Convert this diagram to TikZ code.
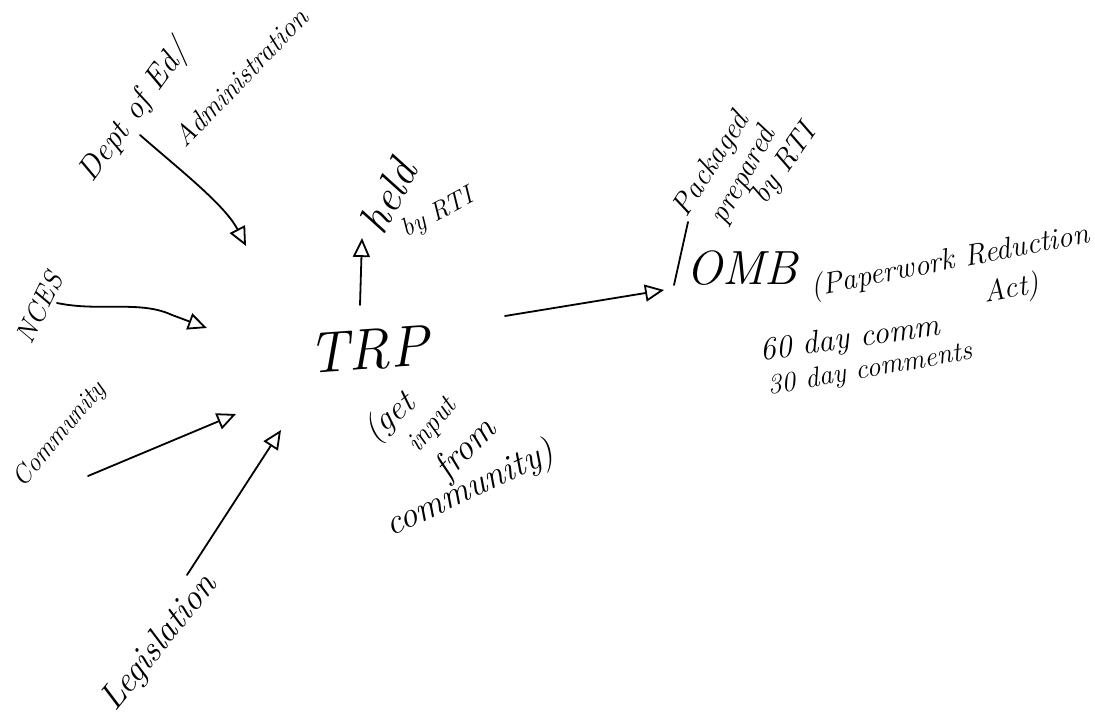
\documentclass[tikz,border=0pt]{standalone}
\usepackage{fontspec}
\setmainfont{Latin Modern Roman}
\usetikzlibrary{arrows.meta}
\begin{document}
\begin{tikzpicture}[x=1pt,y=-1pt,
  hw/.style={font=\fontsize{#1}{#1}\selectfont\itshape, inner sep=0pt},
  arr/.style={line width=1.8pt, line cap=round, -{Triangle[open, length=19pt, width=17pt, line width=1.8pt]}},
  ln/.style={line width=1.8pt, line cap=round}]
\useasboundingbox (0,0) rectangle (1095,717);
\fill[white] (0,0) rectangle (1095,717);
% labels
\node[hw=32, rotate=54] (dept) at (135,112) {Dept of Ed/};
\node[hw=28, rotate=46] (admin) at (241,77) {Administration};
\node[hw=28, rotate=64] (nces) at (39,308) {NCES};
\node[hw=26, rotate=50] (comm) at (60,435) {Community};
\node[hw=36, rotate=51] (legis) at (160,643) {Legislation};
\node[hw=58, rotate=4] (trp) at (368,350) {TRP};
\node[hw=34, rotate=40] (get) at (390,418) {(get};
\node[hw=28, rotate=50] (input) at (433,426) {input};
\node[hw=36, rotate=45] (from) at (466,450) {from};
\node[hw=36, rotate=25] (cmty) at (470,490) {community)};
\node[hw=44, rotate=62] (held) at (388,196) {held};
\node[hw=26, rotate=28] (byrti) at (438,214) {by RTI};
\node[hw=30, rotate=57] (pk1) at (712,165) {Packaged};
\node[hw=30, rotate=61] (pk2) at (744,176) {prepared};
\node[hw=30, rotate=55] (pk3) at (785,165) {by RTI};
\node[hw=48] (omb) at (742,268) {OMB};
\node[hw=30, rotate=11] (pra) at (950,262) {(Paperwork Reduction};
\node[hw=30, rotate=10] (act) at (1012,290) {Act)};
\node[hw=32, rotate=8] (c60) at (850,340) {60 day comm};
\node[hw=28, rotate=10] (c30) at (870,370) {30 day comments};
% connector ends
\coordinate (deptS) at (140,135);
\coordinate (deptE) at (246,246);
\coordinate (ncesS) at (57,303);
\coordinate (ncesM) at (172,315);
\coordinate (ncesE) at (207,328);
\coordinate (commS) at (88,476);
\coordinate (commE) at (236,414);
\coordinate (legS) at (187,575);
\coordinate (legE) at (281,430);
\coordinate (heldS) at (360,305);
\coordinate (heldE) at (362,238);
\coordinate (trpS) at (505,316);
\coordinate (ombE) at (664,290);
\coordinate (pkS) at (688,222);
\coordinate (pkE) at (674,285);
% connectors
\draw[arr] (deptS) .. controls (180,170) and (225,205) .. (deptE);
\draw[arr] (ncesS) .. controls (100,312) and (140,300) .. (ncesM) -- (ncesE);
\draw[arr] (commS) -- (commE);
\draw[arr] (legS) -- (legE);
\draw[arr] (heldS) -- (heldE);
\draw[arr] (trpS) -- (ombE);
\draw[ln] (pkS) -- (pkE);
\end{tikzpicture}
\end{document}
